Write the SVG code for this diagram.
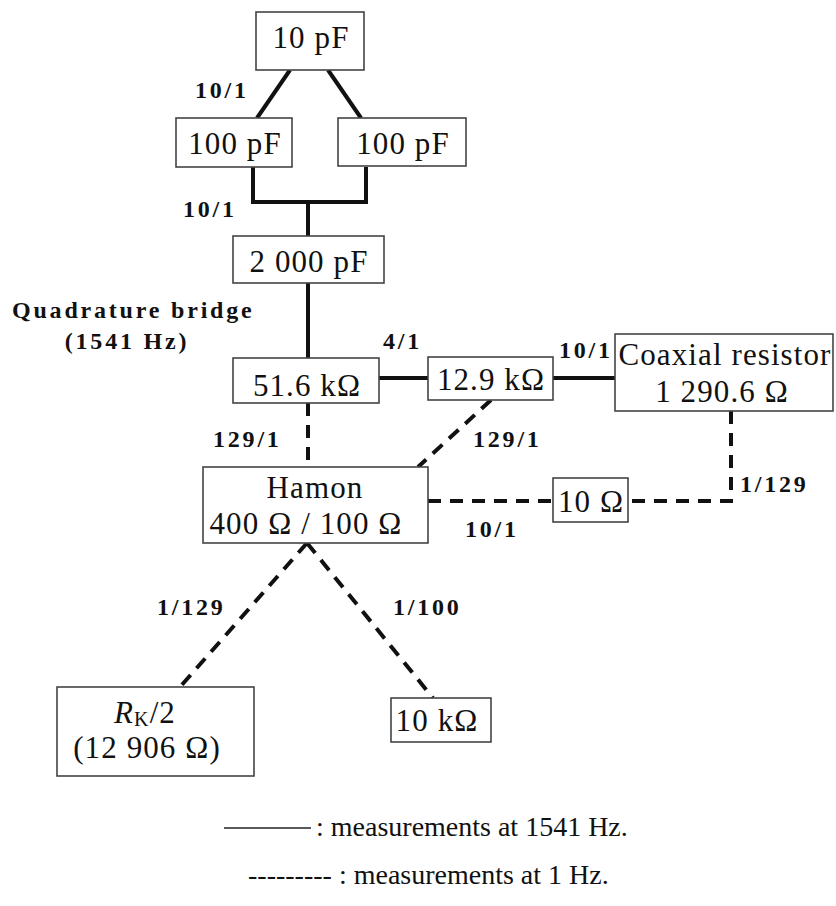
<svg xmlns="http://www.w3.org/2000/svg" width="836" height="906" viewBox="0 0 836 906">
<style>
.box{fill:#fff;stroke:#444;stroke-width:1.6}
.t{font-family:'Liberation Serif','Times New Roman',Times,'DejaVu Serif',serif;font-size:31px;letter-spacing:1.1px;fill:#111;text-anchor:middle}
.lb{font-family:'Liberation Serif','Times New Roman',Times,'DejaVu Serif',serif;font-size:24px;font-weight:bold;letter-spacing:2.8px;fill:#111}
.lg{font-family:'Liberation Serif','Times New Roman',Times,'DejaVu Serif',serif;font-size:28px;fill:#111}
.s{fill:none;stroke:#111;stroke-width:4}
.d{fill:none;stroke:#111;stroke-width:4;stroke-dasharray:13 9}
</style>
<rect width="836" height="906" fill="#fff"/>
<g id="connectors">
<path class="s" d="M290,70 L257,118"/>
<path class="s" d="M328,70 L361,118"/>
<path class="s" d="M253,167 V202 H366 V167"/>
<path class="s" d="M308,202 V236"/>
<path class="s" d="M308,283 V358"/>
<path class="s" d="M379,378 H428"/>
<path class="s" d="M553,378 H615"/>
<path class="d" d="M308,403 V467"/>
<path class="d" d="M491,400 L418,467"/>
<path class="d" d="M428,501 H553"/>
<path class="d" d="M731,411 V501 H628"/>
<path class="d" d="M307,543 L180,687"/>
<path class="d" d="M307,543 L433,698"/>
</g>
<g id="n10pF"><rect class="box" x="256" y="12" width="108" height="58"/><text class="t" x="311" y="48">10 pF</text></g>
<g id="n100pF_left"><rect class="box" x="176" y="118" width="116" height="49"/><text class="t" x="235" y="154">100 pF</text></g>
<g id="n100pF_right"><rect class="box" x="338" y="118" width="128" height="48"/><text class="t" x="403" y="154">100 pF</text></g>
<g id="n2000pF"><rect class="box" x="233" y="236" width="151" height="47"/><text class="t" x="309" y="272">2 000 pF</text></g>
<g id="n51k"><rect class="box" x="233" y="358" width="146" height="45"/><text class="t" x="307" y="396">51.6 kΩ</text></g>
<g id="n12k"><rect class="box" x="428" y="357" width="125" height="43"/><text class="t" x="491" y="390">12.9 kΩ</text></g>
<g id="ncoax"><rect class="box" x="615" y="334" width="218" height="77"/><text class="t" x="725" y="365">Coaxial resistor</text><text class="t" x="722" y="402">1 290.6 Ω</text></g>
<g id="nhamon"><rect class="box" x="203" y="467" width="225" height="76"/><text class="t" x="315" y="498">Hamon</text><text class="t" x="306" y="534">400 Ω / 100 Ω</text></g>
<g id="n10ohm"><rect class="box" x="553" y="478" width="75" height="44"/><text class="t" x="591" y="512">10 Ω</text></g>
<g id="nrk"><rect class="box" x="57" y="687" width="197" height="89"/><text class="t" x="145" y="723"><tspan font-style="italic">R</tspan><tspan font-size="20" dy="3">K</tspan><tspan dy="-3">/2</tspan></text><text class="t" x="147" y="758">(12 906 Ω)</text></g>
<g id="n10k"><rect class="box" x="391" y="698" width="100" height="44"/><text class="t" x="437" y="731">10 kΩ</text></g>
<g id="labels">
<text class="lb" x="195" y="98">10/1</text>
<text class="lb" x="183" y="217">10/1</text>
<text class="lb" x="12" y="318">Quadrature bridge</text>
<text class="lb" x="127" y="349" text-anchor="middle">(1541 Hz)</text>
<text class="lb" x="383" y="349">4/1</text>
<text class="lb" x="559" y="358">10/1</text>
<text class="lb" x="213" y="447">129/1</text>
<text class="lb" x="473" y="447">129/1</text>
<text class="lb" x="740" y="492">1/129</text>
<text class="lb" x="465" y="537">10/1</text>
<text class="lb" x="157" y="615">1/129</text>
<text class="lb" x="393" y="615">1/100</text>
</g>
<g id="legend">
<line x1="224" y1="828" x2="311" y2="828" stroke="#222" stroke-width="1.6"/>
<text class="lg" x="316" y="836">: measurements at 1541 Hz.</text>
<text class="lg" x="248" y="884">--------- : measurements at 1 Hz.</text>
</g>
</svg>
